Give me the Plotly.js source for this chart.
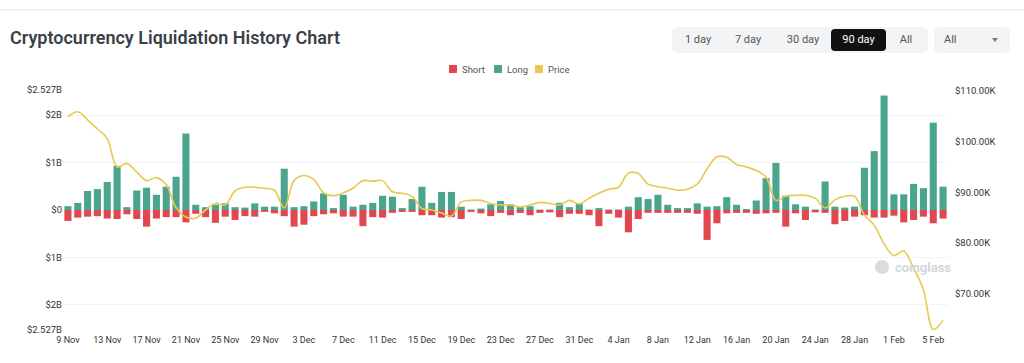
<!DOCTYPE html>
<html>
<head>
<meta charset="utf-8">
<script src="https://cdn.plot.ly/plotly-3.0.1.min.js"></script>
<style>
  html, body { margin: 0; padding: 0; background: #fff; }
  #wrap { position: relative; width: 1024px; height: 363px; overflow: hidden; font-family: Roboto, "Open Sans", sans-serif; }
  #chart { position: absolute; left: 0; top: 0; width: 1024px; height: 363px; }
  #topline { position: absolute; left: 0; top: 9px; width: 1024px; height: 2px; background: #f0f1f3; }
  #btns { position: absolute; left: 672px; top: 27px; width: 256px; height: 26px; background: #f3f4f6; border-radius: 5px; }
  .b { position: absolute; top: 0; height: 26px; line-height: 26px; font-size: 11px; color: #555; text-align: center; }
  .b.on { top: 2px; height: 22px; line-height: 22px; background: #111; color: #fff; border-radius: 4px; }
  #dd { position: absolute; left: 934px; top: 27px; width: 76px; height: 26px; background: #f3f4f6; border-radius: 5px; font-size: 11px; color: #555; line-height: 26px; }
  #dd span.t { position: absolute; left: 10px; }
  #dd span.c { position: absolute; left: 58px; top: 11px; width: 0; height: 0; border-left: 3px solid transparent; border-right: 3px solid transparent; border-top: 4px solid #777; }
</style>
</head>
<body>
<div id="wrap">
  <div id="chart"></div>
  <div id="topline"></div>
  <div id="btns">
    <div class="b" style="left:8px;width:36px;">1 day</div>
    <div class="b" style="left:58px;width:36px;">7 day</div>
    <div class="b" style="left:111px;width:40px;">30 day</div>
    <div class="b on" style="left:159px;width:55px;">90 day</div>
    <div class="b" style="left:222px;width:24px;">All</div>
  </div>
  <div id="dd"><span class="t">All</span><span class="c"></span></div>
</div>
<script>
const categories = [
  "9 Nov","10 Nov","11 Nov","12 Nov","13 Nov","14 Nov","15 Nov","16 Nov","17 Nov","18 Nov",
  "19 Nov","20 Nov","21 Nov","22 Nov","23 Nov","24 Nov","25 Nov","26 Nov","27 Nov","28 Nov",
  "29 Nov","30 Nov","1 Dec","2 Dec","3 Dec","4 Dec","5 Dec","6 Dec","7 Dec","8 Dec",
  "9 Dec","10 Dec","11 Dec","12 Dec","13 Dec","14 Dec","15 Dec","16 Dec","17 Dec","18 Dec",
  "19 Dec","20 Dec","21 Dec","22 Dec","23 Dec","24 Dec","25 Dec","26 Dec","27 Dec","28 Dec",
  "29 Dec","30 Dec","31 Dec","1 Jan","2 Jan","3 Jan","4 Jan","5 Jan","6 Jan","7 Jan",
  "8 Jan","9 Jan","10 Jan","11 Jan","12 Jan","13 Jan","14 Jan","15 Jan","16 Jan","17 Jan",
  "18 Jan","19 Jan","20 Jan","21 Jan","22 Jan","23 Jan","24 Jan","25 Jan","26 Jan","27 Jan",
  "28 Jan","29 Jan","30 Jan","31 Jan","1 Feb","2 Feb","3 Feb","4 Feb","5 Feb","6 Feb"
];
const tickLabels = ["9 Nov","13 Nov","17 Nov","21 Nov","25 Nov","29 Nov","3 Dec","7 Dec","11 Dec","15 Dec","19 Dec","23 Dec","27 Dec","31 Dec","4 Jan","8 Jan","12 Jan","16 Jan","20 Jan","24 Jan","28 Jan","1 Feb","5 Feb"];
// Long liquidations, billions USD
const longLiq = [
  0.08,0.15,0.40,0.44,0.59,0.93,0.06,0.41,0.47,0.32,
  0.49,0.70,1.61,0.11,0.06,0.11,0.14,0.06,0.05,0.14,
  0.07,0.07,0.87,0.06,0.08,0.18,0.35,0.04,0.32,0.07,
  0.11,0.15,0.30,0.28,0.04,0.23,0.49,0.15,0.38,0.38,
  0.07,0.01,0.03,0.12,0.19,0.12,0.06,0.08,0.01,0.01,
  0.15,0.06,0.13,0.01,0.04,0.01,0.01,0.07,0.27,0.23,
  0.32,0.11,0.04,0.04,0.14,0.07,0.08,0.27,0.11,0.02,
  0.20,0.67,0.99,0.30,0.12,0.07,0.01,0.60,0.07,0.05,
  0.07,0.89,1.24,2.41,0.33,0.33,0.55,0.46,1.84,0.49
];
// Short liquidations, billions USD (drawn below zero)
const shortLiq = [
  0.23,0.16,0.14,0.13,0.18,0.19,0.09,0.19,0.35,0.18,
  0.15,0.15,0.26,0.08,0.15,0.27,0.14,0.21,0.13,0.14,
  0.04,0.07,0.13,0.35,0.31,0.13,0.09,0.07,0.14,0.14,
  0.34,0.15,0.16,0.06,0.04,0.04,0.11,0.11,0.16,0.15,
  0.19,0.04,0.07,0.13,0.06,0.11,0.06,0.11,0.06,0.05,
  0.15,0.08,0.08,0.11,0.34,0.08,0.16,0.47,0.19,0.06,
  0.06,0.06,0.06,0.06,0.08,0.63,0.28,0.07,0.06,0.06,
  0.08,0.07,0.06,0.35,0.07,0.21,0.05,0.06,0.30,0.23,
  0.14,0.11,0.16,0.16,0.12,0.26,0.21,0.14,0.28,0.18
];
// BTC price, thousands USD
const price = [
  104.9,105.9,104.3,102.5,100.6,95.0,95.7,94.0,92.3,92.9,
  91.5,87.0,85.1,84.9,86.5,87.8,87.5,90.3,91.0,91.0,
  90.8,90.4,86.9,92.3,93.3,92.5,89.9,89.3,89.9,90.8,
  92.3,92.2,92.3,90.1,89.8,89.2,86.8,86.5,85.9,85.3,
  88.1,88.4,88.4,87.8,87.5,87.5,87.1,87.5,88.0,87.8,
  87.5,88.4,87.7,88.8,89.8,90.6,91.0,93.8,93.7,91.6,
  91.1,90.8,90.4,90.6,91.6,94.6,97.0,96.9,95.5,95.0,
  94.3,93.0,88.4,89.2,89.4,89.4,88.8,86.9,88.5,89.2,
  89.2,85.5,83.5,79.8,77.5,78.4,75.0,70.8,62.9,64.7
];
const seriesNames = ["Short", "Long", "Price"];
const leftTicks = [-2.527,-2,-1,0,1,2,2.527];
const leftTickText = ["$2.527B","$2B","$1B","$0","$1B","$2B","$2.527B"];
const rightTicks = [70,80,90,100,110];
const rightTickText = ["$70.00K","$80.00K","$90.00K","$100.00K","$110.00K"];

const RED = "#e0474f", GREEN = "#4aa58c", GOLD = "#e9c84f";
const COLORS = [RED, GREEN, GOLD];
const FONT = "Roboto, 'Open Sans', sans-serif";

// plot area in page pixels: x 63..948, y 90..330
const PX = x => (x - 63) / 885;
const PY = y => (330 - y) / 240;

const traces = [
  { type: "bar", name: seriesNames[0], x: categories, y: shortLiq.map(v => -v), marker: { color: RED }, yaxis: "y" },
  { type: "bar", name: seriesNames[1], x: categories, y: longLiq, marker: { color: GREEN }, yaxis: "y" },
  { type: "scatter", mode: "lines", name: seriesNames[2], x: categories, y: price, yaxis: "y2",
    line: { color: GOLD, width: 1.6, shape: "spline", smoothing: 1 } }
];

// legend drawn as small squares + labels (matching the compact source legend)
const legendX = [449, 494, 535];
const legendShapes = legendX.map((x, i) => ({
  type: "rect", xref: "paper", yref: "paper", x0: PX(x), x1: PX(x + 8), y0: PY(73), y1: PY(65),
  fillcolor: COLORS[i], line: { width: 0 }
}));
const legendAnn = legendX.map((x, i) => ({
  text: seriesNames[i], xref: "paper", yref: "paper", x: PX(x + 11), y: PY(69),
  xanchor: "left", yanchor: "middle", showarrow: false, font: { family: FONT, size: 9.5, color: "#555" }
}));

const layout = {
  width: 1024, height: 363,
  paper_bgcolor: "rgba(0,0,0,0)", plot_bgcolor: "rgba(0,0,0,0)",
  margin: { l: 63, r: 76, t: 90, b: 33 },
  font: { family: FONT, size: 9, color: "#333" },
  barmode: "relative", bargap: 0.28,
  title: { text: "Cryptocurrency Liquidation History Chart", x: 10/1024, xanchor: "left", xref: "container",
           y: 1 - 38/363, yanchor: "middle", yref: "container",
           font: { family: FONT, size: 18, weight: 600, color: "#3b3f48" } },
  showlegend: false,
  xaxis: { type: "category", categoryorder: "array", categoryarray: categories, tickvals: tickLabels,
           showgrid: false, zeroline: false, showline: false, ticks: "", tickangle: 0, ticklabelstandoff: 3,
           range: [-0.5, categories.length - 0.5], tickfont: { size: 9, color: "#333" } },
  yaxis: { range: [-2.527, 2.527], tickvals: leftTicks, ticktext: leftTickText, zeroline: false,
           showgrid: true, gridcolor: "#f3f3f3", tickfont: { size: 9.5, color: "#333" }, fixedrange: true },
  yaxis2: { overlaying: "y", side: "right", range: [62.8, 110.2], tickvals: rightTicks, ticktext: rightTickText,
            showgrid: false, zeroline: false, ticklabelstandoff: 6, tickfont: { size: 9.5, color: "#333" } },
  annotations: [
    { text: "coinglass", xref: "paper", yref: "paper", x: PX(893), y: PY(267),
      xanchor: "left", yanchor: "middle", showarrow: false,
      font: { family: FONT, size: 13, weight: 700, color: "#d4d6d9" } }
  ].concat(legendAnn),
  shapes: [
    { type: "circle", xref: "paper", yref: "paper", x0: PX(875), x1: PX(889),
      y0: PY(274), y1: PY(260), fillcolor: "#d9dbde", line: { width: 0 } }
  ].concat(legendShapes)
};

Plotly.newPlot("chart", traces, layout, { displayModeBar: false, staticPlot: true });
</script>
</body>
</html>
